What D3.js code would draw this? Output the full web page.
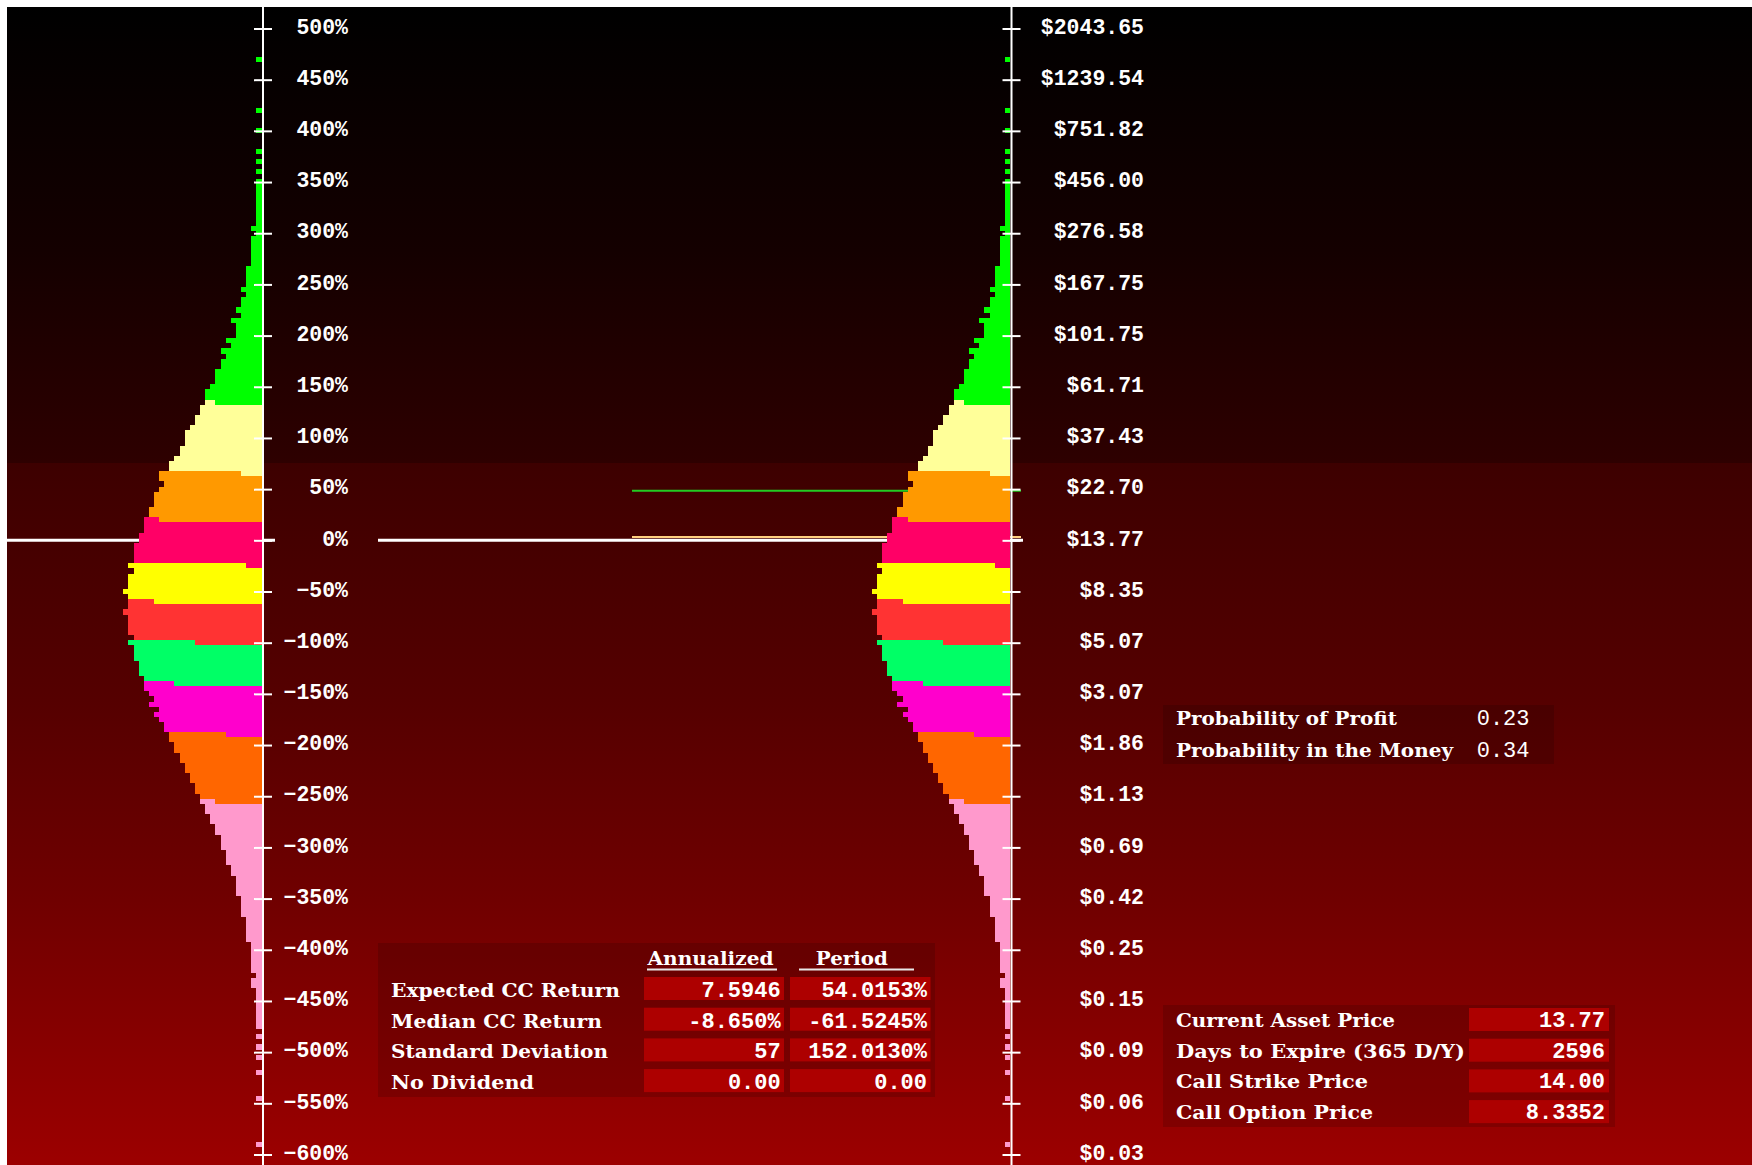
<!DOCTYPE html>
<html><head><meta charset="utf-8">
<script src="https://cdn.jsdelivr.net/npm/d3@7"></script>
<style>html,body{margin:0;padding:0;background:#fff;}svg{display:block}</style>
</head><body>
<svg id="c" width="1752" height="1165"></svg>
<script>
// ---------- data ----------
const currentPrice = 13.77, strikePrice = 14.00, callPrice = 8.3352;
const returnTicks = [500,450,400,350,300,250,200,150,100,50,0,-50,-100,-150,-200,-250,-300,-350,-400,-450,-500,-550,-600];
const priceTickLabels = ["$2043.65","$1239.54","$751.82","$456.00","$276.58","$167.75","$101.75","$61.71","$37.43","$22.70","$13.77","$8.35","$5.07","$3.07","$1.86","$1.13","$0.69","$0.42","$0.25","$0.15","$0.09","$0.06","$0.03"];
// histogram of CC returns: bins of 5% centred from 470% down to -590%
const binCenters = d3.range(470, -595, -5);
const binCounts = [
  1,0,0,0,0,0,0,0,0,0,1,0,0,0,1,0,0,0,1,0,1,0,1,0,            // 470 … 355
  1,1,1,1,1,1,1,1,1,2,1,2,2,2,2,2,2,3,3,3,3,                  // 350 … 250
  4,3,4,4,5,4,6,5,5,5,7,6,8,7,8,8,9,9,9,10,11,11,11,          // 245 … 135
  12,12,13,13,14,15,15,15,16,16,17,18,18,                     // 130 … 70
  20,20,19,20,21,21,21,22,22,23,23,23,24,24,                  // 65 … 0
  25,25,25,25,26,25,26,26,26,27,26,26,26,27,26,26,26,26,25,26,// -5 … -100
  25,25,25,24,24,24,23,23,23,22,21,22,20,21,20,19,19,18,18,   // -105 … -195
  17,17,16,16,15,15,14,14,13,13,12,12,11,11,10,10,9,9,        // -200 … -285
  8,8,8,7,7,7,6,6,5,5,5,5,4,4,4,4,3,3,3,3,3,2,2,2,2,2,        // -290 … -415
  2,1,2,2,1,1,1,1,1,1,1,1,0,1,0,1,0,1,0,0,1,0,0,0,0,1,0,0,0,0,0,0,0,0,1 // -420 … -590
];
const bandColors = ["#00ff00","#ffff99","#ff9900","#ff0066","#ffff00","#ff3333","#00ff66","#ff00cc","#ff6600","#ff99cc"];
const bandSplitBins = [135, 65, 20, -25, -60, -100, -140, -190, -255];
const bandSplitUpper = [9, 4, 20, 3, 21, 13, 17, 7, 9];

const statsLabels = ["Expected CC Return","Median CC Return","Standard Deviation","No Dividend"];
const statsAnnualized = ["7.5946","-8.650%","57","0.00"];
const statsPeriod = ["54.0153%","-61.5245%","152.0130%","0.00"];
const probLabels = ["Probability of Profit","Probability in the Money"];
const probValues = ["0.23","0.34"];
const optLabels = ["Current Asset Price","Days to Expire (365 D/Y)","Call Strike Price","Call Option Price"];
const optValues = ["13.77","2596","14.00","8.3352"];

// ---------- drawing ----------
const svg = d3.select("#c");
const W = 1752, H = 1165;
const defs = svg.append("defs");
const grad = defs.append("linearGradient").attr("id","bg").attr("gradientUnits","userSpaceOnUse")
  .attr("x1",0).attr("y1",7).attr("x2",0).attr("y2",H);
[[7,"#000000"],[250,"#140000"],[463,"#2e0000"],[463,"#3d0000"],[700,"#550000"],[900,"#700000"],[1165,"#9c0000"]]
  .forEach(([yy,c])=>grad.append("stop").attr("offset",(yy-7)/(H-7)).attr("stop-color",c));
svg.append("rect").attr("x",7).attr("y",7).attr("width",W-7).attr("height",H-7).attr("fill","url(#bg)");

const y = d3.scaleLinear().domain([-600,500]).range([1154.5,28.5]);
const w = d3.scaleLinear().domain([0,27]).range([0,138.2]);
const leftAxisX = 263, rightAxisX = 1011.5;

// reference lines (under histograms)
svg.append("line").attr("x1",7).attr("x2",275).attr("y1",y(0)).attr("y2",y(0)).attr("stroke","#fff").attr("stroke-width",3);
svg.append("line").attr("x1",378).attr("x2",1023).attr("y1",y(0)).attr("y2",y(0)).attr("stroke","#fff").attr("stroke-width",3);
const rStrike = Math.log(strikePrice/currentPrice)*100;
const rBreak = Math.log((strikePrice+callPrice)/currentPrice)*100;
svg.append("line").attr("x1",632).attr("x2",1021).attr("y1",y(rStrike)-1.5).attr("y2",y(rStrike)-1.5).attr("stroke","#ffd080").attr("stroke-width",2);
svg.append("line").attr("x1",632).attr("x2",1021).attr("y1",y(rBreak)).attr("y2",y(rBreak)).attr("stroke","#22cc22").attr("stroke-width",2);

// histogram segments
const segs = [];
binCenters.forEach((r,i)=>{
  const n = binCounts[i]; if(!n) return;
  const j = bandSplitBins.indexOf(r);
  if (j >= 0) {
    segs.push({r, x0:0, x1:bandSplitUpper[j], band:j});
    segs.push({r, x0:bandSplitUpper[j], x1:n, band:j+1});
  } else {
    segs.push({r, x0:0, x1:n, band: bandSplitBins.filter(b=>b>r).length});
  }
});
function drawHist(barEnd){
  svg.append("g").attr("shape-rendering","crispEdges").selectAll("rect").data(segs).join("rect")
    .attr("x", d=>Math.round(barEnd - w(d.x1)))
    .attr("width", d=>Math.round(barEnd - w(d.x0)) - Math.round(barEnd - w(d.x1)))
    .attr("y", d=>Math.round(y(d.r+2.5)))
    .attr("height", d=>Math.round(y(d.r-2.5)) - Math.round(y(d.r+2.5)))
    .attr("fill", d=>bandColors[d.band]);
}
drawHist(leftAxisX-1.5);
drawHist(rightAxisX-1.5);

// axes
function drawAxis(ax, fmt, labelDx){
  svg.append("line").attr("x1",ax).attr("x2",ax).attr("y1",7).attr("y2",H).attr("stroke","#fff").attr("stroke-width",2);
  const g = svg.append("g").attr("transform",`translate(${ax},0)`)
    .call(d3.axisRight(y).tickValues(returnTicks).tickSize(9).tickPadding(0).tickFormat(fmt));
  g.select(".domain").remove();
  g.selectAll(".tick line").attr("x1",-9).attr("x2",9).attr("stroke","#fff").attr("stroke-width",2);
  g.selectAll(".tick text").attr("x",labelDx).attr("dy","0.22em").attr("text-anchor","end")
    .attr("fill","#fff").style("font-family","'Liberation Mono', monospace").style("font-weight","bold").style("font-size","21.5px");
  g.attr("font-family",null).attr("font-size",null);
}
drawAxis(leftAxisX, d=> (d<0?"\u2212"+(-d):d)+"%", 348-leftAxisX);
drawAxis(rightAxisX, (d,i)=>priceTickLabels[i], 1144-rightAxisX);

// tables
const labelFont = "'DejaVu Serif', serif";
const valueFont = "'Liberation Mono', monospace";
function label(x, yb, txt, len){
  const t = svg.append("text").attr("x",x).attr("y",yb).text(txt).attr("fill","#fff")
    .style("font-family",labelFont).style("font-weight","bold").style("font-size","19px");
  if(len) t.attr("textLength",len).attr("lengthAdjust","spacingAndGlyphs");
  return t;
}
function value(x, yb, txt, anchor, weight){
  return svg.append("text").attr("x",x).attr("y",yb).text(txt).attr("fill","#fff").attr("text-anchor",anchor||"end")
    .style("font-family",valueFont).style("font-weight",weight||"bold").style("font-size","22px");
}
const boxFill = "rgba(0,0,0,0.14)", cellFill = "#ad0000";

// table 1: stats
svg.append("rect").attr("x",378).attr("y",943).attr("width",557).attr("height",154).attr("fill",boxFill);
label(647.5, 965, "Annualized", 126);
label(815.8, 965, "Period", 72);
svg.append("rect").attr("x",647).attr("y",968.5).attr("width",130).attr("height",2).attr("fill","#e8e8e8");
svg.append("rect").attr("x",799).attr("y",968.5).attr("width",115).attr("height",2).attr("fill","#e8e8e8");
const stW = [229,211,217,143];
statsLabels.forEach((s,i)=>{
  const top = 977 + i*30.7;
  svg.append("rect").attr("x",644).attr("y",top).attr("width",140).attr("height",23).attr("fill",cellFill);
  svg.append("rect").attr("x",790).attr("y",top).attr("width",140.5).attr("height",23).attr("fill",cellFill);
  label(391, top+20, s, stW[i]);
  value(780.7, top+20, statsAnnualized[i]);
  value(927, top+20, statsPeriod[i]);
});

// table 2: probabilities
svg.append("rect").attr("x",1163).attr("y",705).attr("width",391).attr("height",59).attr("fill",boxFill);
const prW = [221,277];
probLabels.forEach((s,i)=>{
  const yb = 725 + i*31.7;
  label(1176, yb, s, prW[i]);
  value(1476.7, yb, probValues[i], "start", "normal");
});

// table 3: option inputs
svg.append("rect").attr("x",1163).attr("y",1005).attr("width",452).attr("height",122).attr("fill",boxFill);
const opW = [219,289,192,197];
optLabels.forEach((s,i)=>{
  const top = 1008 + i*30.7;
  svg.append("rect").attr("x",1469).attr("y",top).attr("width",140).attr("height",23).attr("fill",cellFill);
  label(1176, top+19, s, opW[i]);
  value(1605, top+19, optValues[i]);
});
</script>
</body></html>
